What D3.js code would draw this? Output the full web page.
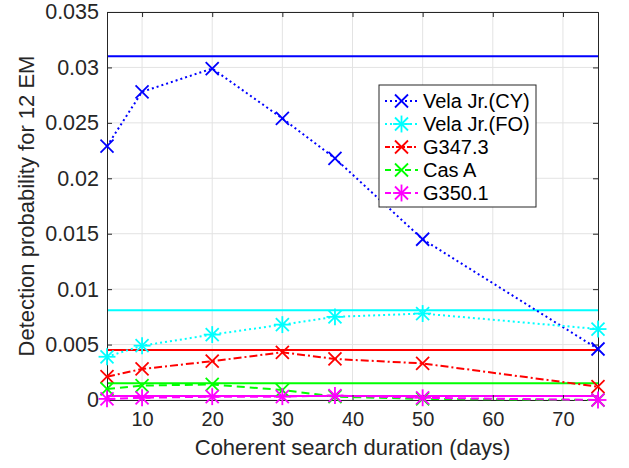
<!DOCTYPE html>
<html><head><meta charset="utf-8">
<script src="https://cdn.jsdelivr.net/npm/d3@7"></script>
<style>body{margin:0;background:#fff}svg{display:block}text{font-family:"Liberation Sans",Arial,sans-serif}</style>
</head><body><svg id="c" width="629" height="468"></svg>
<script>
const durations = [5, 10, 20, 30, 37.5, 50, 75];
const velaCY = [0.0229, 0.0278, 0.0299, 0.0254, 0.0218, 0.0145, 0.0046];
const velaFO = [0.0039, 0.0049, 0.0059, 0.0068, 0.0075, 0.0078, 0.0064];
const g347 = [0.0021, 0.0028, 0.0035, 0.0043, 0.0037, 0.0033, 0.0012];
const casA = [0.0010, 0.0013, 0.0014, 0.0009, 0.0003, 0.0001, 0.0000];
const g350 = [0.0001, 0.0002, 0.0003, 0.0003, 0.0004, 0.0002, 0.0000];
const limits = [0.0310, 0.0081, 0.0045, 0.0015, 0.00035];
const seriesNames = ["Vela Jr.(CY)", "Vela Jr.(FO)", "G347.3", "Cas A", "G350.1"];
const colors = ["#0000ff", "#00ffff", "#ff0000", "#00ff00", "#ff00ff"];
const dashes = ["2,3", "2,3", "8,3,2,3", "8,5", "8,5"];
const markers = ["x", "star", "x", "x", "star"];
const xTicks = [10, 20, 30, 40, 50, 60, 70];
const yTicks = [0, 0.005, 0.01, 0.015, 0.02, 0.025, 0.03, 0.035];
const yTickLabels = ["0", "0.005", "0.01", "0.015", "0.02", "0.025", "0.03", "0.035"];

const data = [velaCY, velaFO, g347, casA, g350];
const svg = d3.select("#c");
const L = 107, R = 598, T = 12, B = 400;
const x = d3.scaleLinear().domain([5, 75]).range([L, R]);
const y = d3.scaleLinear().domain([0, 0.035]).range([B, T]);

const g = svg.append("g");
g.selectAll(".gx").data(xTicks).enter().append("line")
  .attr("x1", d => x(d)).attr("x2", d => x(d)).attr("y1", T).attr("y2", B)
  .attr("stroke", "#e3e3e3").attr("stroke-width", 1);
g.selectAll(".gy").data(yTicks).enter().append("line")
  .attr("y1", d => y(d)).attr("y2", d => y(d)).attr("x1", L).attr("x2", R)
  .attr("stroke", "#e3e3e3").attr("stroke-width", 1);

const xAxis = d3.axisBottom(x).tickValues(xTicks).tickSize(-5).tickPadding(12).tickFormat(d3.format("d"));
const yAxis = d3.axisLeft(y).tickValues(yTicks).tickSize(-5).tickPadding(8).tickFormat((d, i) => yTickLabels[i]);
const xa = svg.append("g").attr("transform", `translate(0,${B})`).call(xAxis);
const ya = svg.append("g").attr("transform", `translate(${L},0)`).call(yAxis);
const xt = svg.append("g").attr("transform", `translate(0,${T})`).call(d3.axisTop(x).tickValues(xTicks).tickSize(-5).tickFormat(""));
const yr = svg.append("g").attr("transform", `translate(${R},0)`).call(d3.axisRight(y).tickValues(yTicks).tickSize(-5).tickFormat(""));
[xa, ya, xt, yr].forEach(a => {
  a.selectAll("path").attr("stroke", "#262626").attr("stroke-width", 1);
  a.selectAll("line").attr("stroke", "#262626");
  a.selectAll("text").attr("fill", "#262626").style("font-family", "Liberation Sans, Arial, sans-serif");
});
xa.selectAll("text").style("font-size", "20px");
ya.selectAll("text").style("font-size", "21.5px");

limits.forEach((v, i) => {
  g.append("line").attr("x1", L).attr("x2", R).attr("y1", y(v)).attr("y2", y(v))
    .attr("stroke", colors[i]).attr("stroke-width", 2);
});

function drawMarker(sel, type, cx, cy, color, s) {
  const gg = sel.append("g").attr("transform", `translate(${cx},${cy})`).attr("stroke", color).attr("stroke-width", 1.8).attr("fill", "none");
  if (type === "x") {
    gg.append("line").attr("x1", -s).attr("y1", -s).attr("x2", s).attr("y2", s);
    gg.append("line").attr("x1", -s).attr("y1", s).attr("x2", s).attr("y2", -s);
  } else {
    const a = s * 1.3;
    gg.append("line").attr("x1", -a).attr("y1", 0).attr("x2", a).attr("y2", 0);
    gg.append("line").attr("x1", 0).attr("y1", -a).attr("x2", 0).attr("y2", a);
    gg.append("line").attr("x1", -s).attr("y1", -s).attr("x2", s).attr("y2", s);
    gg.append("line").attr("x1", -s).attr("y1", s).attr("x2", s).attr("y2", -s);
  }
}

const line = d3.line().x(d => x(d[0])).y(d => y(d[1]));
const plot = svg.append("g");
data.forEach((vals, i) => {
  const pts = durations.map((d, j) => [d, vals[j]]);
  plot.append("path").attr("d", line(pts)).attr("fill", "none").attr("stroke", colors[i])
    .attr("stroke-width", 2).attr("stroke-dasharray", dashes[i]);
  pts.forEach(p => drawMarker(plot, markers[i], x(p[0]), y(p[1]), colors[i], 6.5));
});

svg.append("text").attr("x", (L + R) / 2).attr("y", 455).attr("text-anchor", "middle")
  .style("font-size", "22px").attr("fill", "#262626").text("Coherent search duration (days)");
svg.append("text").attr("transform", `translate(34,${(T + B) / 2}) rotate(-90)`).attr("text-anchor", "middle")
  .style("font-size", "22px").attr("fill", "#262626").text("Detection probability for 12 EM");

const lg = svg.append("g");
lg.append("rect").attr("x", 379).attr("y", 85).attr("width", 157).attr("height", 122)
  .attr("fill", "#fff").attr("stroke", "#262626").attr("stroke-width", 1);
seriesNames.forEach((n, i) => {
  const ly = 101 + i * 23;
  lg.append("line").attr("x1", 385).attr("x2", 418).attr("y1", ly).attr("y2", ly)
    .attr("stroke", colors[i]).attr("stroke-width", 2).attr("stroke-dasharray", dashes[i] === "8,5" ? "6,4" : (dashes[i] === "8,3,2,3" ? "5,2,2,2" : dashes[i]));
  drawMarker(lg, markers[i], 401.5, ly, colors[i], 6.5);
  lg.append("text").attr("x", 423).attr("y", ly + 7).style("font-size", "20px").attr("fill", "#000").text(n);
});
</script></body></html>
